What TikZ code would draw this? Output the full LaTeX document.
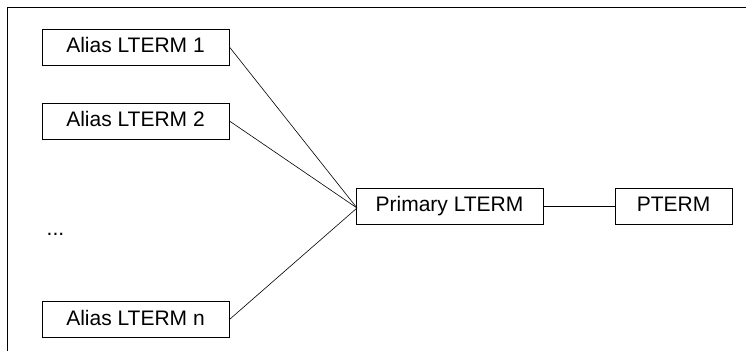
\documentclass[tikz,border=0pt]{standalone}
\usepackage{fontspec}
\setmainfont{Liberation Sans}
\begin{document}
\begin{tikzpicture}[x=1pt,y=-1pt,
  box/.style={draw, line width=0.9pt, inner sep=0pt, minimum height=36pt,
    text height=15pt, text depth=3.2pt, font=\fontsize{21}{25}\selectfont},
  conn/.style={line width=0.6pt},
  frame/.style={line width=1.2pt}]
\useasboundingbox (0,0) rectangle (746,351);
\draw[frame] (7.5,351) -- (7.5,7.5) -- (746,7.5);
\node[box, minimum width=187pt] (a1) at (135.5,47) {Alias LTERM 1};
\node[box, minimum width=187pt] (a2) at (135.5,121) {Alias LTERM 2};
\node[box, minimum width=187pt] (an) at (135.5,319.5) {Alias LTERM n};
\node[anchor=base west, inner sep=0pt, font=\fontsize{21}{25}\selectfont] (dots) at (46.5,235) {...};
\node[box, minimum width=187pt] (prim) at (449.5,206) {Primary LTERM};
\node[box, minimum width=117pt] (pt) at (673.5,206) {PTERM};
\coordinate (join) at (357,208);
\draw[conn] (a1.east) -- (join);
\draw[conn] (a2.east) -- (join);
\draw[conn] (an.east) -- (join);
\draw[conn] (prim.east) -- (pt.west);
\end{tikzpicture}
\end{document}
